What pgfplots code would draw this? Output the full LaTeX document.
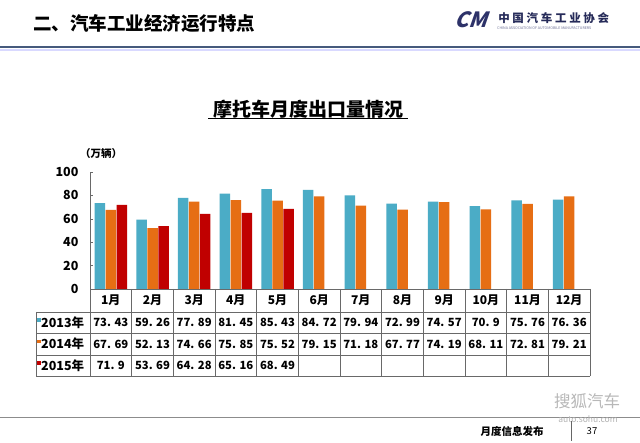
\documentclass[border=0pt]{standalone}
\usepackage{fontspec}
\setmainfont{Noto Sans CJK SC}
\usepackage{pgfplots}
\usepackage{pgfplotstable}
\pgfplotsset{compat=1.18}

\definecolor{c13}{RGB}{75,172,198}
\definecolor{c14}{RGB}{230,110,20}
\definecolor{c15}{RGB}{192,0,0}
\definecolor{navy}{RGB}{45,50,105}
\definecolor{rulec}{RGB}{70,90,125}
\definecolor{gridc}{RGB}{105,105,105}

% month index, 2013, 2014 (万辆)
\pgfplotstableread{
m v13 v14
0 73.43 67.69
1 59.26 52.13
2 77.89 74.66
3 81.45 75.85
4 85.43 75.52
5 84.72 79.15
6 79.94 71.18
7 72.99 67.77
8 74.57 74.19
9 70.9 68.11
10 75.76 72.81
11 76.36 79.21
}\tblA
% 2015
\pgfplotstableread{
m v15
0 71.9
1 53.69
2 64.28
3 65.16
4 68.49
}\tblB

\begin{document}
\begin{tikzpicture}
\path[use as bounding box, fill=white] (0,0) rectangle (640pt,443pt);

\begin{axis}[
  at={(90pt,154pt)}, anchor=south west,
  scale only axis, width=500pt, height=117pt,
  xmin=-0.5, xmax=11.5, ymin=0, ymax=100,
  axis y line*=left, axis x line=none,
  y axis line style={draw=gridc, line width=0.8pt},
  ytick={0,20,...,100},
  tick align=inside, major tick length=3pt,
  ytick style={draw=gridc},
  /pgf/number format/assume math mode=true,
  yticklabel style={font=\fontsize{12.5}{12.5}\selectfont\bfseries, xshift=-8pt},
  ybar, bar width=10.5pt,
  clip=false,
]
\addplot[fill=c13, draw=none, bar shift=-11pt] table[x=m, y=v13] {\tblA};
\addplot[fill=c14, draw=none, bar shift=0pt] table[x=m, y=v14] {\tblA};
\addplot[fill=c15, draw=none, bar shift=11pt] table[x=m, y=v15] {\tblB};
\end{axis}

\begin{scope}[x=1pt, y=-1pt, yshift=443pt]
  % slide header
  \node[anchor=west, font=\fontsize{18.5}{18.5}\selectfont\bfseries, inner sep=0] at (33,24) {二、汽车工业经济运行特点};
  \draw[rulec, line width=1.6pt] (0,47) -- (640,47);
  \draw[blue!15, line width=2pt] (0,49.6) -- (640,49.6);
  % logo
  \node[xslant=0.35, text=navy, font=\fontsize{21}{21}\selectfont\bfseries, inner sep=0] at (473,20) {CM};
  \foreach \c [count=\i from 0] in {中,国,汽,车,工,业,协,会}
    \node[text=navy!85!black, font=\fontsize{11.5}{11.5}\selectfont\bfseries, inner sep=0] at ({504+14.2*\i},18) {\c};
  \node[anchor=west, text=navy!70, font=\fontsize{3.6}{4}\selectfont, inner sep=0] at (497,28.5) {CHINA ASSOCIATION OF AUTOMOBILE MANUFACTURERS};

  % chart title
  \node[font=\fontsize{19}{19}\selectfont\bfseries, inner sep=0] at (308,109) {摩托车月度出口量情况};
  \draw[line width=1pt] (208,118.5) -- (408,118.5);
  \node[font=\fontsize{10.5}{10.5}\selectfont\bfseries, inner sep=0] at (101,154) {（万辆）};

  % data table
  \draw[gridc, line width=0.7pt] (90,289) -- (590,289);
  \foreach \yy in {312,333.5,355,376}
    \draw[gridc, line width=0.7pt] (36,\yy) -- (590,\yy);
  \draw[gridc, line width=0.7pt] (36,312) -- (36,376);
  \foreach \k in {0,...,12}
    \draw[gridc, line width=0.7pt] ({90+41.667*\k},289) -- ({90+41.667*\k},376);

  \foreach \t [count=\i from 0] in {1月,2月,3月,4月,5月,6月,7月,8月,9月,10月,11月,12月}
    \node[font=\fontsize{12}{12}\selectfont\bfseries, inner sep=0] at ({90+41.667*(\i+0.5)},300.5) {\t};

  \fill[c13] (37,318.5) rectangle (40.5,322);
  \fill[c14] (37,340) rectangle (40.5,343.5);
  \fill[c15] (37,361.5) rectangle (40.5,365);
  \node[anchor=west, font=\fontsize{12.5}{12.5}\selectfont\bfseries, inner sep=0] at (41,322.5) {2013年};
  \node[anchor=west, font=\fontsize{12.5}{12.5}\selectfont\bfseries, inner sep=0] at (41,344) {2014年};
  \node[anchor=west, font=\fontsize{12.5}{12.5}\selectfont\bfseries, inner sep=0] at (41,365.5) {2015年};

  \foreach \t [count=\i from 0] in {73. 43,59. 26,77. 89,81. 45,85. 43,84. 72,79. 94,72. 99,74. 57,70. 9,75. 76,76. 36}
    \node[font=\fontsize{11.3}{11.3}\selectfont\bfseries, inner sep=0] at ({90+41.667*(\i+0.5)},322.5) {\t};
  \foreach \t [count=\i from 0] in {67. 69,52. 13,74. 66,75. 85,75. 52,79. 15,71. 18,67. 77,74. 19,68. 11,72. 81,79. 21}
    \node[font=\fontsize{11.3}{11.3}\selectfont\bfseries, inner sep=0] at ({90+41.667*(\i+0.5)},344) {\t};
  \foreach \t [count=\i from 0] in {71. 9,53. 69,64. 28,65. 16,68. 49}
    \node[font=\fontsize{11.3}{11.3}\selectfont\bfseries, inner sep=0] at ({90+41.667*(\i+0.5)},365.5) {\t};

  % footer
  \node[text=black!28, font=\fontsize{16.5}{16.5}\selectfont, inner sep=0] at (587,401) {搜狐汽车};
  \draw[black!45, line width=0.9pt] (0,417) -- (640,417);
  \node[text=black!30, font=\fontsize{8.5}{8.5}\selectfont, inner sep=0] at (588,419.5) {auto.sohu.com};
  \node[font=\fontsize{10.5}{10.5}\selectfont\bfseries, inner sep=0] at (512,431) {月度信息发布};
  \draw[black!60, line width=0.6pt] (571,421) -- (571,441);
  \node[font=\fontsize{9.5}{9.5}\selectfont, inner sep=0] at (592,431) {37};
\end{scope}
\end{tikzpicture}
\end{document}
